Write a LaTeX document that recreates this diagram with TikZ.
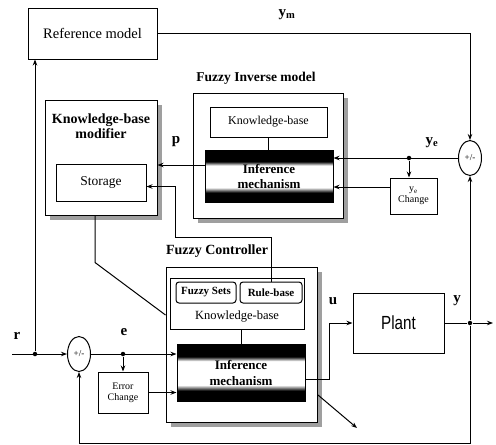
\documentclass[tikz,border=0pt]{standalone}
\usepackage{fontspec}
\setmainfont{Liberation Serif}
\newfontfamily\plantfont{Liberation Sans}
\usetikzlibrary{arrows.meta,shadows,shapes.geometric,calc}
% black block with a bright band across the middle
\pgfdeclareverticalshading{infband}{100bp}{color(0bp)=(black); color(34bp)=(black); color(39bp)=(white); color(60bp)=(white); color(64bp)=(black); color(100bp)=(black)}
\begin{document}
\begin{tikzpicture}[x=1pt,y=-1pt,line width=1pt,
  box/.style={draw, fill=white, inner sep=0pt, align=center},
  shbox/.style={box, drop shadow={shadow xshift=4.5pt, shadow yshift=-4.5pt,
    fill=gray!75, opacity=1}},
  infbox/.style={draw, shading=infband, inner sep=0pt, align=center,
    font=\bfseries\fontsize{13}{13}\selectfont},
  rbox/.style={draw, fill=white, rounded corners=3pt, inner sep=0pt,
    font=\bfseries\fontsize{11}{12}\selectfont},
  arr/.style={-{Stealth[length=6pt,width=4.5pt]}},
  dot/.style={circle, fill, inner sep=0pt, minimum size=4.5pt},
  lbl/.style={font=\bfseries\fontsize{15}{17}\selectfont},
  ttl/.style={font=\bfseries\fontsize{13.5}{15}\selectfont, align=center},
  sumnode/.style={draw, fill=white, ellipse, inner sep=0pt,
    minimum width=23pt, minimum height=35pt, font=\fontsize{9}{10}\selectfont},
  small/.style={font=\fontsize{10}{11}\selectfont}]
\useasboundingbox (0,0) rectangle (496,445);

% ---- reference model ----
\node[box, minimum width=129pt, minimum height=51pt, font=\fontsize{14.5}{16}\selectfont]
  (refm) at (92.5,33.5) {Reference model};

% ---- fuzzy inverse model ----
\node[ttl] (invt) at (256,78) {Fuzzy Inverse model};
\node[shbox, minimum width=150pt, minimum height=125pt] (inv) at (268,155.5) {};
\node[box, minimum width=117pt, minimum height=30pt, font=\fontsize{12}{14}\selectfont]
  (invkb) at (268.5,122) {Knowledge-base};
\node[infbox, minimum width=128pt, minimum height=52pt] (invinf) at (269,176)
  {Inference\\[2pt]mechanism};

% ---- knowledge-base modifier ----
\node[shbox, minimum width=112pt, minimum height=115pt] (kbm) at (101,157.5) {};
\node[ttl, font=\bfseries\fontsize{14}{15}\selectfont] (kbmt) at (101,126) {Knowledge-base\\modifier};
\node[box, minimum width=90pt, minimum height=37pt, font=\fontsize{13.5}{15}\selectfont]
  (storage) at (101,182.5) {Storage};

% ---- y_e change ----
\node[box, minimum width=47pt, minimum height=36pt, small] (yechg) at (413.5,196)
  {y\textsubscript{e}\\Change};

% ---- summing junctions ----
\node[sumnode] (sumR) at (470,158) {+/-};
\node[sumnode] (sumL) at (79,354) {+/-};

% ---- fuzzy controller ----
\node[ttl, font=\bfseries\fontsize{14}{15}\selectfont] (fct) at (217,251) {Fuzzy Controller};
\node[shbox, minimum width=151pt, minimum height=155pt] (fc) at (241.5,344.5) {};
\node[box, minimum width=134pt, minimum height=51pt] (fckb) at (237,303.5) {};
\node[rbox, minimum width=60pt, minimum height=21pt] (fsets) at (206,292.5) {Fuzzy Sets};
\node[rbox, minimum width=62pt, minimum height=21pt] (rbase) at (271,292.5) {Rule-base};
\node[font=\fontsize{12.5}{14}\selectfont] (fckbt) at (237,317) {Knowledge-base};
\node[infbox, minimum width=128pt, minimum height=57pt] (fcinf) at (241,372.5)
  {Inference\\[3pt]mechanism};

% ---- error change ----
\node[box, minimum width=50pt, minimum height=41pt, small] (errchg) at (123,392.5)
  {Error\\Change};

% ---- plant ----
\node[box, minimum width=91pt, minimum height=60pt, font=\plantfont\fontsize{19}{20}\selectfont]
  (plant) at (398.5,323) {\scalebox{0.8}[1]{Plant}};

% ---- signal labels ----
\node[lbl] (lym) at (287,15) {y\textsubscript{m}};
\node[lbl] (lye) at (432,143) {y\textsubscript{e}};
\node[lbl] (lp) at (176,142) {p};
\node[lbl] (lr) at (17,336) {r};
\node[lbl] (le) at (124,332) {e};
\node[lbl] (lu) at (333,301) {u};
\node[lbl] (ly) at (457,301) {y};

% ---- connectors ----
% reference model output
\draw[arr] (refm.east) -| (sumR.north);
% error of the reference model into the inverse model
\draw[arr] (sumR.west) -- (sumR.west -| invinf.east);
\node[dot] (yej) at (409,158) {};
\draw[arr] (yej) -- (yej |- yechg.north);
\coordinate (yecW) at ([yshift=9pt]yechg.west);
\draw[arr] (yecW) -- (yecW -| invinf.east);
\draw (invkb.south) -- (invkb.south |- invinf.north);
% inverse model output p
\coordinate (invW) at ([yshift=11pt]invinf.west);
\draw[arr] (invW) -- (invW -| kbm.east);
% rule base into storage
\coordinate (rbBend) at (175,237);
\coordinate (stE) at ([yshift=-4pt]storage.east);
\draw[arr] (rbase.north) |- (rbBend) -- (rbBend |- stE) -- (stE);
% modifier acting on the controller
\coordinate (kbmS) at ([xshift=-6pt]kbm.south);
\coordinate (fcW) at ([yshift=29.5pt]fc.west);
\draw (kbmS) -- ++(0,47) -- (fcW);
% reference input
\coordinate (rin) at (12,354);
\draw[arr] (rin) -- (sumL.west);
\node[dot] (rj) at (35,354) {};
\draw[arr] (rj) -- (rj |- refm.south);
% error and error change
\draw[arr] (sumL.east) -- (sumL.east -| fcinf.west);
\node[dot] (ej) at (123,354) {};
\draw[arr] (ej) -- (errchg.north);
\draw[arr] (errchg.east) -- (errchg.east -| fcinf.west);
\draw (fcinf.north) -- (fcinf.north |- fckb.south);
% control signal u
\coordinate (uOut) at ([yshift=-6.5pt]fcinf.east);
\draw[arr] (uOut) -- ++(24,0) |- (plant.west);
% adaptation arrow
\coordinate (dgS) at (318,395);
\coordinate (dgE) at (357,428);
\draw[arr] (dgS) -- (dgE);
% plant output and feedback
\node[dot] (yj) at (470,323) {};
\coordinate (yout) at (493,323);
\draw (plant.east) -- (yj);
\draw[arr] (yj) -- (yout);
\draw[arr] (yj) -- (sumR.south);
\draw[arr] (yj) -- (470,443) -| (sumL.south);
\end{tikzpicture}
\end{document}
